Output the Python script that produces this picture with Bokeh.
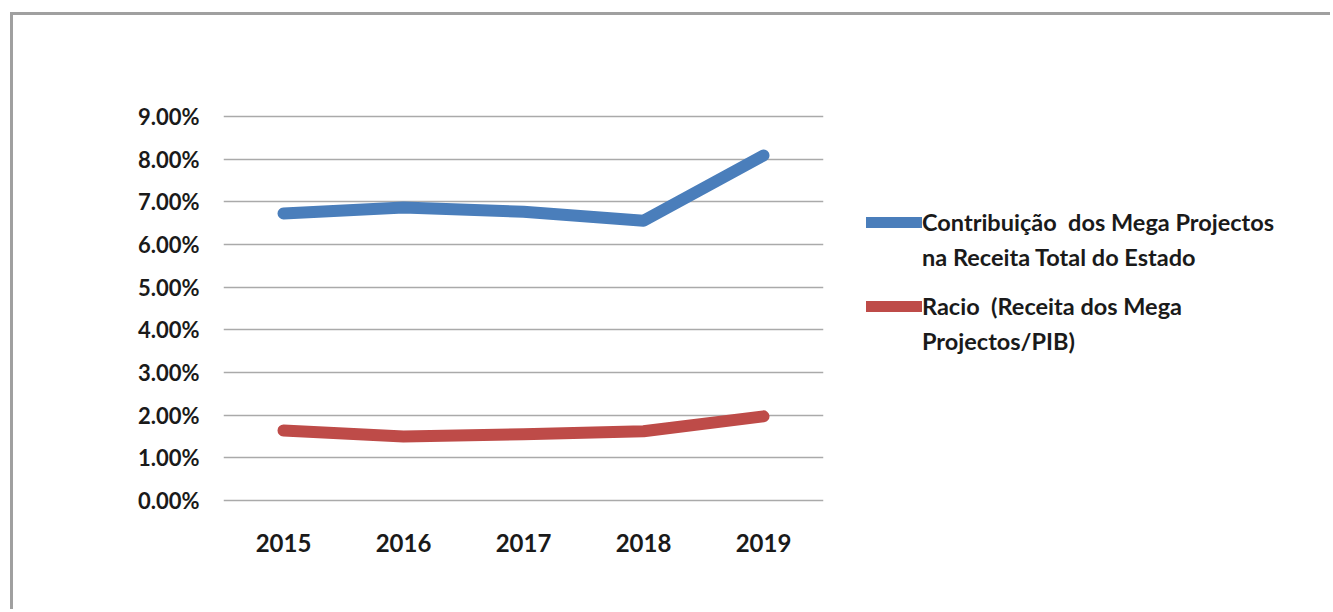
from bokeh.plotting import figure
from bokeh.models import Legend, LegendItem, FixedTicker, ColumnDataSource, Range1d, FactorRange
from bokeh.layouts import row
from bokeh.embed import file_html
from bokeh.resources import INLINE

years = ["2015", "2016", "2017", "2018", "2019"]
contribuicao = [6.73, 6.87, 6.77, 6.56, 8.09]
racio = [1.64, 1.50, 1.55, 1.62, 1.97]
y_ticks = [0, 1, 2, 3, 4, 5, 6, 7, 8, 9]
label_contrib = ["Contribuição  dos Mega Projectos", "na Receita Total do Estado"]
label_racio = ["Racio  (Receita dos Mega", "Projectos/PIB)"]

FONT = "Lato"
BLUE = "#4a7ebb"
RED = "#be4b48"
TXT = "#1a1a1a"
BORDER = "3px solid #a0a0a0"

p = figure(x_range=years, y_range=Range1d(-0.05, 9.05), width=840, height=597,
           output_backend="svg", toolbar_location=None,
           min_border_left=210, min_border_right=30,
           min_border_top=99, min_border_bottom=110)
p.styles = {"border-left": BORDER, "border-top": BORDER,
            "margin-left": "10px", "margin-top": "12px"}
p.x_range.range_padding = 0
p.outline_line_color = None

src = ColumnDataSource(dict(year=years, c=contribuicao, r=racio))
p.line("year", "c", source=src, line_width=12, line_color=BLUE,
       line_cap="round", line_join="round")
p.line("year", "r", source=src, line_width=12, line_color=RED,
       line_cap="round", line_join="round")

p.yaxis.ticker = FixedTicker(ticks=y_ticks)
p.yaxis.major_label_overrides = {t: f"{t:.2f}%" for t in y_ticks}
p.yaxis.axis_line_color = None
p.yaxis.major_tick_line_color = None
p.yaxis.minor_tick_line_color = None
p.yaxis.major_label_standoff = 18
p.yaxis.major_label_text_font = FONT
p.yaxis.major_label_text_font_style = "bold"
p.yaxis.major_label_text_font_size = "22px"
p.yaxis.major_label_text_color = TXT

p.xaxis.axis_line_color = None
p.xaxis.major_tick_line_color = None
p.xaxis.minor_tick_line_color = None
p.xaxis.major_label_standoff = 25
p.xaxis.major_label_text_font = FONT
p.xaxis.major_label_text_font_style = "bold"
p.xaxis.major_label_text_font_size = "24px"
p.xaxis.major_label_text_color = TXT

p.xgrid.grid_line_color = None
p.ygrid.ticker = FixedTicker(ticks=y_ticks)
p.ygrid.grid_line_color = "#aaaaaa"
p.ygrid.grid_line_width = 1.5

# legend panel (its renderers use the same data but lie outside its visible range)
p2 = figure(x_range=FactorRange(*years), y_range=Range1d(50, 51), width=480, height=597,
            output_backend="svg", toolbar_location=None,
            x_axis_type=None, y_axis_type=None,
            min_border_left=0, min_border_right=0, min_border_top=0, min_border_bottom=0)
p2.styles = {"border-top": BORDER, "margin-top": "12px"}
p2.outline_line_color = None
p2.grid.grid_line_color = None

g_blue = p2.line("year", "c", source=src, line_width=11, line_color=BLUE, line_cap="round")
g_red = p2.line("year", "r", source=src, line_width=11, line_color=RED, line_cap="round")
g_none = p2.line("year", "c", source=src, line_width=11, line_alpha=0)


def make_legend(color_r, labels, loc):
    lg = Legend(items=[LegendItem(label=labels[0], renderers=[color_r]),
                       LegendItem(label=labels[1], renderers=[g_none])],
                location=loc)
    lg.padding = 0
    lg.margin = 0
    lg.spacing = 7
    lg.border_line_color = None
    lg.background_fill_alpha = 0
    lg.glyph_width = 56
    lg.glyph_height = 28
    lg.label_height = 28
    lg.label_standoff = 0
    lg.label_text_font = FONT
    lg.label_text_font_style = "bold"
    lg.label_text_font_size = "23.5px"
    lg.label_text_color = TXT
    return lg


p2.add_layout(make_legend(g_blue, label_contrib, (16, 231)), "center")
p2.add_layout(make_legend(g_red, label_racio, (16, 147)), "center")

layout = row(p, p2)
open("out.html", "w").write(file_html(layout, INLINE))
